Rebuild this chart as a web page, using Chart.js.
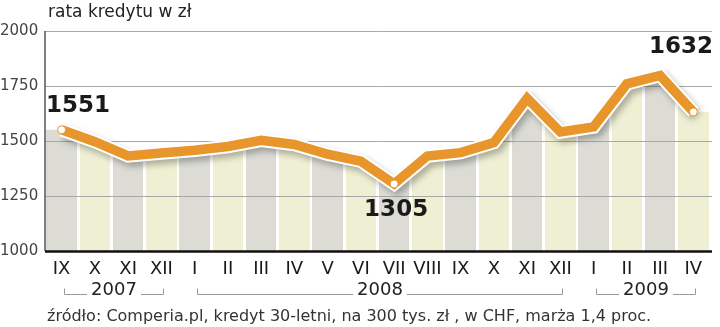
<!DOCTYPE html>
<html>
<head>
<meta charset="utf-8">
<script src="https://cdn.jsdelivr.net/npm/chart.js@4.4.0/dist/chart.umd.min.js"></script>
<style>
  body { margin: 0; background: #fff; }
  .wrap { position: relative; width: 720px; height: 327px; font-family: "DejaVu Sans", sans-serif; }
  canvas { position: absolute; left: 0; top: 0; }
  .title { position: absolute; left: 48px; top: 1px; font-size: 17px; line-height: 20px; color: #222; }
  .source { position: absolute; left: 47px; top: 306px; font-size: 16px; line-height: 20px; color: #333; }
</style>
</head>
<body>
<div class="wrap">
  <canvas id="myChart" width="720" height="327"></canvas>
  <div class="title">rata kredytu w zł</div>
  <div class="source">źródło: Comperia.pl, kredyt 30-letni, na 300 tys. zł , w CHF, marża 1,4 proc.</div>
</div>
<script>
// rata kredytu, IX 2007 - IV 2009
const months = ["IX", "X", "XI", "XII", "I", "II", "III", "IV", "V", "VI", "VII", "VIII", "IX", "X", "XI", "XII", "I", "II", "III", "IV"];
const values = [1551, 1497, 1432, 1445, 1458, 1475, 1503, 1484, 1440, 1408, 1305, 1432, 1447, 1493, 1694, 1541, 1564, 1760, 1798, 1632];
const yearLabels = ["2007", "2008", "2009"];
const yearFirst = [0, 4, 16];
const yearLast = [3, 15, 19];
const markedPoints = [0, 10, 19];
const yTicks = [1000, 1250, 1500, 1750, 2000];

const orange = "#e8952b";
const bandGrey = "#dcdcd5";
const bandYellow = "#efefd3";
const textFont = '"DejaVu Sans", sans-serif';

const linePoints = values.map((v, i) => ({ x: i, y: v }));
// area under the line spans the whole category width
const fillPoints = [{ x: -0.5, y: values[0] }]
  .concat(linePoints)
  .concat([{ x: values.length - 0.5, y: values[values.length - 1] }]);

function stripes(context) {
  const chart = context.chart;
  const area = chart.chartArea;
  if (!area) return bandGrey;
  const x = chart.scales.x;
  const w = area.right - area.left;
  const g = chart.ctx.createLinearGradient(area.left, 0, area.right, 0);
  const stop = (px) => Math.min(1, Math.max(0, (px - area.left) / w));
  for (let i = 0; i < months.length; i++) {
    const l = x.getPixelForValue(i - 0.5) + 1.5;
    const r = x.getPixelForValue(i + 0.5) - 1.5;
    const c = i % 2 === 0 ? bandGrey : bandYellow;
    g.addColorStop(stop(l - 0.01), "#ffffff");
    g.addColorStop(stop(l), c);
    g.addColorStop(stop(r), c);
    g.addColorStop(stop(r + 0.01), "#ffffff");
  }
  return g;
}

const decorations = {
  id: "decorations",
  beforeDatasetDraw(chart, args) {
    if (args.index === 1) {
      const ctx = chart.ctx;
      ctx.save();
      ctx.shadowColor = "rgba(0,0,0,0.28)";
      ctx.shadowBlur = 6;
      ctx.shadowOffsetX = 3;
      ctx.shadowOffsetY = 4;
    }
  },
  afterDatasetDraw(chart, args) {
    const ctx = chart.ctx;
    if (args.index === 1) ctx.restore();
    if (args.index === 2) {
      // grid lines above the shaded area, below the line
      const area = chart.chartArea;
      const y = chart.scales.y;
      ctx.save();
      ctx.strokeStyle = "#a8a8a8";
      ctx.lineWidth = 1;
      yTicks.forEach((t) => {
        if (t === 1000) return;
        const py = Math.round(y.getPixelForValue(t)) + 0.5;
        ctx.beginPath();
        ctx.moveTo(area.left, py);
        ctx.lineTo(area.right + 2, py);
        ctx.stroke();
      });
      ctx.restore();
    }
  },
  afterDraw(chart) {
    const ctx = chart.ctx;
    const area = chart.chartArea;
    const x = chart.scales.x;
    ctx.save();
    // axes
    ctx.strokeStyle = "#555";
    ctx.lineWidth = 1.5;
    ctx.beginPath();
    ctx.moveTo(area.left, area.top);
    ctx.lineTo(area.left, area.bottom);
    ctx.stroke();
    ctx.strokeStyle = "#111";
    ctx.lineWidth = 2.5;
    ctx.beginPath();
    ctx.moveTo(area.left, area.bottom + 0.5);
    ctx.lineTo(area.right + 2, area.bottom + 0.5);
    ctx.stroke();

    // year brackets
    ctx.font = "18px " + textFont;
    ctx.fillStyle = "#222";
    ctx.textAlign = "center";
    ctx.textBaseline = "middle";
    ctx.strokeStyle = "#999";
    ctx.lineWidth = 1;
    const ly = 294.5;
    yearLabels.forEach((label, i) => {
      const x1 = Math.round(x.getPixelForValue(yearFirst[i]) + 2) + 0.5;
      const x2 = Math.round(x.getPixelForValue(yearLast[i]) + 2) + 0.5;
      const mid = (x1 + x2) / 2;
      const half = ctx.measureText(label).width / 2 + 4;
      ctx.beginPath();
      ctx.moveTo(x1, ly - 6);
      ctx.lineTo(x1, ly);
      ctx.lineTo(mid - half, ly);
      ctx.moveTo(mid + half, ly);
      ctx.lineTo(x2, ly);
      ctx.lineTo(x2, ly - 6);
      ctx.stroke();
      ctx.fillText(label, mid, 290);
    });

    // value labels
    const meta = chart.getDatasetMeta(0);
    ctx.font = "bold 23px " + textFont;
    ctx.fillStyle = "#1a1a1a";
    const p0 = meta.data[markedPoints[0]];
    ctx.textAlign = "left";
    ctx.fillText(String(values[markedPoints[0]]), area.left + 1, p0.y - 24);
    const p1 = meta.data[markedPoints[1]];
    ctx.textAlign = "center";
    ctx.fillText(String(values[markedPoints[1]]), p1.x + 2, p1.y + 26);
    ctx.textAlign = "right";
    ctx.fillText(String(values[markedPoints[2]]), area.right + 3, area.top + 16);
    ctx.restore();
  }
};

new Chart(document.getElementById("myChart"), {
  type: "line",
  data: {
    datasets: [
      {
        data: linePoints,
        borderColor: orange,
        borderWidth: 9.5,
        borderJoinStyle: "miter",
        tension: 0,
        pointRadius: (c) => (markedPoints.includes(c.dataIndex) ? 4 : 0),
        pointBackgroundColor: "#ffffff",
        pointBorderColor: orange,
        pointBorderWidth: 1,
        order: 1,
      },
      {
        data: linePoints,
        borderColor: "#ffffff",
        borderWidth: 13.5,
        borderJoinStyle: "miter",
        tension: 0,
        pointRadius: 0,
        order: 2,
      },
      {
        data: fillPoints,
        borderWidth: 0,
        borderColor: "rgba(0,0,0,0)",
        backgroundColor: stripes,
        fill: "start",
        tension: 0,
        pointRadius: 0,
        order: 3,
      },
    ],
  },
  options: {
    responsive: false,
    animation: false,
    events: [],
    layout: { padding: { top: 31, right: 10, left: 0, bottom: 0 } },
    plugins: { legend: { display: false }, tooltip: { enabled: false }, title: { display: false } },
    scales: {
      x: {
        type: "linear",
        min: -0.5,
        max: months.length - 0.5,
        grid: { display: false, drawTicks: false },
        border: { display: false },
        afterBuildTicks: (s) => { s.ticks = months.map((m, i) => ({ value: i })); },
        afterFit: (s) => { s.height = 76; },
        ticks: {
          autoSkip: false,
          maxRotation: 0,
          padding: 8,
          color: "#1a1a1a",
          font: { family: textFont, size: 18 },
          callback: (v) => months[v],
        },
      },
      y: {
        min: 1000,
        max: 2000,
        grid: { display: false, drawTicks: false },
        border: { display: false },
        afterBuildTicks: (s) => { s.ticks = yTicks.map((v) => ({ value: v })); },
        afterFit: (s) => { s.width = 45; },
        ticks: {
          crossAlign: "far",
          padding: 6,
          color: "#444",
          font: { family: textFont, size: 15 },
          callback: (v) => String(v),
        },
      },
    },
  },
  plugins: [decorations],
});
</script>
</body>
</html>
